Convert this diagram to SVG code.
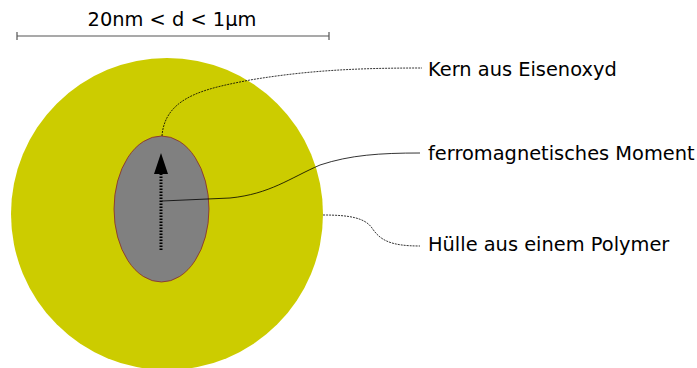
<svg xmlns="http://www.w3.org/2000/svg" width="697" height="368" viewBox="0 0 697 368">
<style>
text{font-family:"DejaVu Sans",sans-serif;font-size:19.4px;fill:#000}
.c{fill:none;stroke:#000;stroke-width:0.8}
.d{stroke-dasharray:2 1}
</style>
<rect width="697" height="368" fill="#fff"/>
<g id="scale">
<path d="M17 36H329M17 32V40M329 32V40" stroke="#555" stroke-width="1.2" fill="none"/>
<text x="172" y="26" text-anchor="middle">20nm &lt; d &lt; 1µm</text>
</g>
<g id="shell"><circle cx="167" cy="214" r="156" fill="#cccc00"/></g>
<g id="core"><ellipse cx="161.5" cy="209" rx="47.5" ry="73" fill="#808080" stroke="#8b2b20" stroke-width="0.8"/></g>
<g id="moment">
<line x1="161" y1="250" x2="161" y2="173" stroke="#000" stroke-width="3" stroke-dasharray="1.5 1.5"/>
<polygon points="161,153 154,174 168,174" fill="#000"/>
</g>
<g id="connectors">
<path class="c d" d="M162 136C165 95 210 88 250 80C310 70 360 68 422 68"/>
<path class="c" d="M162 201L230 198C270 194 290 178 320 165C350 155 380 153 420 153"/>
<path class="c d" d="M323 215C350 215 365 218 372 228C380 240 390 246 420 246"/>
</g>
<g id="labels">
<text x="428" y="76">Kern aus Eisenoxyd</text>
<text x="428" y="160">ferromagnetisches Moment</text>
<text x="428" y="251">Hülle aus einem Polymer</text>
</g>
</svg>
